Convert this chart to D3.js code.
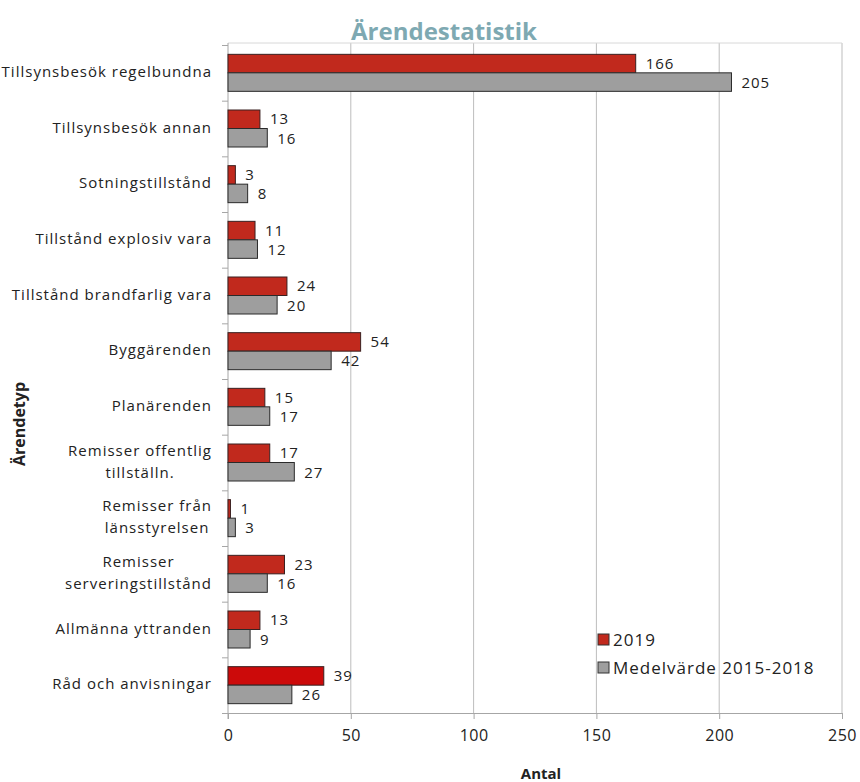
<!DOCTYPE html>
<html>
<head>
<meta charset="utf-8">
<script src="https://cdn.jsdelivr.net/npm/d3@7"></script>
<style>
  body { margin: 0; background: #fff; }
  text { font-family: "Open Sans", sans-serif; }
</style>
</head>
<body>
<div id="chart"></div>
<script>
// chart data
const categories = [
  ["Tillsynsbesök regelbundna"],
  ["Tillsynsbesök annan"],
  ["Sotningstillstånd"],
  ["Tillstånd explosiv vara"],
  ["Tillstånd brandfarlig vara"],
  ["Byggärenden"],
  ["Planärenden"],
  ["Remisser offentlig", "tillställn."],
  ["Remisser från", "länsstyrelsen"],
  ["Remisser", "serveringstillstånd"],
  ["Allmänna yttranden"],
  ["Råd och anvisningar"]
];
const values2019 = [166, 13, 3, 11, 24, 54, 15, 17, 1, 23, 13, 39];
const valuesMedel = [205, 16, 8, 12, 20, 42, 17, 27, 3, 16, 9, 26];
const xTicks = [0, 50, 100, 150, 200, 250];
const seriesNames = ["2019", "Medelvärde 2015-2018"];

const width = 860, height = 782;
const margin = {top: 45, right: 18, bottom: 69, left: 228};

const svg = d3.select("#chart").append("svg")
  .attr("width", width)
  .attr("height", height);

const x = d3.scaleLinear().domain([0, 250]).range([margin.left, width - margin.right]);
const y = d3.scaleBand().domain(d3.range(categories.length))
  .range([margin.top, height - margin.bottom]);
const barH = 18.5;

// gridlines
svg.append("g").selectAll("line")
  .data(xTicks.slice(1))
  .enter().append("line")
  .attr("x1", d => x(d)).attr("x2", d => x(d))
  .attr("y1", margin.top - 2).attr("y2", height - margin.bottom)
  .attr("stroke", "#bdbdbd").attr("stroke-width", 1);

svg.append("line")
  .attr("x1", x(0)).attr("x2", x(250))
  .attr("y1", margin.top - 2).attr("y2", margin.top - 2)
  .attr("stroke", "#d8d8d8");

// x axis
const xAxis = svg.append("g")
  .attr("transform", `translate(0, ${height - margin.bottom})`)
  .call(d3.axisBottom(x).tickValues(xTicks).tickSize(6).tickPadding(11));
xAxis.select(".domain").attr("stroke", "#a6a6a6").attr("d", `M${x(0) - 6},0.5H${x(250)}`);
xAxis.selectAll(".tick line").attr("stroke", "#a6a6a6");
xAxis.selectAll("text").attr("font-size", 16).attr("fill", "#222")
  .style("font-family", "Open Sans, sans-serif").style("letter-spacing", "0.5px");

// y axis line + ticks at band edges
svg.append("line")
  .attr("x1", x(0)).attr("x2", x(0))
  .attr("y1", margin.top - 2).attr("y2", height - margin.bottom + 6)
  .attr("stroke", "#a6a6a6");
svg.append("g").selectAll("line")
  .data(d3.range(categories.length))
  .enter().append("line")
  .attr("x1", x(0) - 6).attr("x2", x(0))
  .attr("y1", d => y(d) + 0.5).attr("y2", d => y(d) + 0.5)
  .attr("stroke", "#a6a6a6");

// bars
const rows = svg.append("g").selectAll("g")
  .data(d3.range(categories.length))
  .enter().append("g");

rows.append("rect")
  .attr("x", x(0))
  .attr("y", i => y(i) + y.bandwidth() / 2 - barH)
  .attr("width", i => x(values2019[i]) - x(0))
  .attr("height", barH)
  .attr("fill", i => i === categories.length - 1 ? "#cc0a0a" : "#c1291d")
  .attr("stroke", "#3a2020").attr("stroke-width", 1);

rows.append("rect")
  .attr("x", x(0))
  .attr("y", i => y(i) + y.bandwidth() / 2)
  .attr("width", i => x(valuesMedel[i]) - x(0))
  .attr("height", barH)
  .attr("fill", "#9e9e9e")
  .attr("stroke", "#2a2a2a").attr("stroke-width", 1);

// value labels
rows.append("text")
  .attr("x", i => x(values2019[i]) + 10)
  .attr("y", i => y(i) + y.bandwidth() / 2 - barH / 2 + 5)
  .attr("font-size", 15).attr("fill", "#222").style("letter-spacing", "1px")
  .text(i => values2019[i]);

rows.append("text")
  .attr("x", i => x(valuesMedel[i]) + 10)
  .attr("y", i => y(i) + y.bandwidth() / 2 + barH / 2 + 6)
  .attr("font-size", 15).attr("fill", "#222").style("letter-spacing", "1px")
  .text(i => valuesMedel[i]);

// category labels, multi-line ones centred within their block
const labelRight = x(0) - 16;
rows.each(function(i) {
  const lines = categories[i];
  const t = d3.select(this).append("text")
    .attr("font-size", 15).attr("fill", "#222").style("letter-spacing", "1px");
  const lineH = 22;
  const cy = y(i) + y.bandwidth() / 2 - (lines.length - 1) * lineH / 2 - 1;
  lines.forEach((s, k) => {
    t.append("tspan").attr("y", cy + k * lineH + 5).text(s);
  });
  let maxW = 0;
  t.selectAll("tspan").each(function() {
    maxW = Math.max(maxW, this.getComputedTextLength());
  });
  t.attr("text-anchor", "middle");
  t.selectAll("tspan").attr("x", labelRight - maxW / 2);
});

// title
svg.append("text")
  .attr("x", 444).attr("y", 40)
  .attr("text-anchor", "middle")
  .attr("font-size", 24).attr("font-weight", "bold")
  .attr("fill", "#7ea9b2")
  .text("Ärendestatistik");

// axis titles
svg.append("text")
  .attr("x", 541).attr("y", 779)
  .attr("text-anchor", "middle")
  .attr("font-size", 15).attr("font-weight", "bold").attr("fill", "#222")
  .text("Antal");

svg.append("text")
  .attr("transform", "translate(25, 424) rotate(-90)")
  .attr("text-anchor", "middle")
  .attr("font-size", 16).attr("font-weight", "bold").attr("fill", "#222")
  .text("Ärendetyp");

// legend
const legend = svg.append("g").attr("transform", "translate(598, 634)");
const legendColors = ["#c1291d", "#9e9e9e"];
seriesNames.forEach((name, k) => {
  legend.append("rect")
    .attr("x", 0).attr("y", k * 28)
    .attr("width", 11).attr("height", 11)
    .attr("fill", legendColors[k])
    .attr("stroke", "#333");
  legend.append("text")
    .attr("x", 15).attr("y", k * 28 + 12)
    .attr("font-size", 17).attr("fill", "#222").style("letter-spacing", "1px")
    .text(name);
});
</script>
</body>
</html>
